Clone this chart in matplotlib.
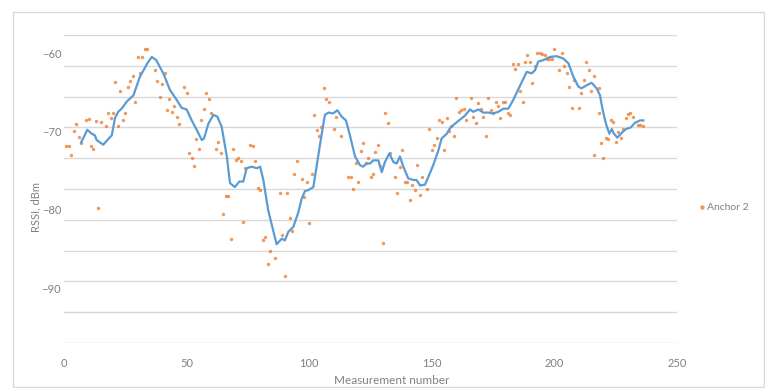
import numpy as np
import matplotlib
matplotlib.use("Agg")
import matplotlib.pyplot as plt
from matplotlib.patches import Rectangle

plt.rcParams['font.family'] = ['Lato', 'DejaVu Sans']

# Anchor 2 raw RSSI readings (measurement number, dBm)
meas_x = [1, 2, 3, 4, 5, 6, 7, 9, 10, 11, 12, 13, 14, 15, 17, 18, 19, 20, 21, 22,
          23, 24, 25, 26, 27, 28, 29, 30, 31, 32, 33, 34, 37, 38, 39, 40, 41, 42, 43, 44,
          45, 46, 47, 49, 50, 51, 52, 53, 54, 55, 56, 57, 58, 59, 60, 62, 63, 64, 65, 66,
          67, 68, 69, 70, 71, 72, 73, 74, 76, 77, 78, 79, 80, 81, 82, 83, 84, 86, 88, 89,
          90, 91, 92, 93, 94, 95, 97, 98, 99, 100, 101, 102, 103, 104, 105, 106, 107, 108, 110, 111,
          113, 116, 117, 118, 119, 120, 121, 122, 123, 124, 125, 126, 127, 128, 129, 130, 131, 132, 133, 135,
          136, 137, 138, 139, 140, 141, 142, 143, 144, 145, 146, 148, 149, 150, 151, 152, 153, 154, 155, 156,
          157, 158, 159, 160, 161, 162, 163, 164, 166, 167, 168, 169, 170, 171, 172, 173, 174, 175, 176, 177,
          178, 179, 180, 181, 182, 183, 184, 185, 186, 187, 188, 189, 190, 191, 192, 193, 194, 195, 196, 197,
          198, 199, 200, 202, 203, 204, 205, 206, 207, 208, 210, 211, 212, 213, 214, 215, 216, 216, 218, 218,
          219, 220, 221, 222, 223, 224, 225, 226, 227, 228, 229, 230, 231, 232, 234, 235, 236]
rssi = [-71.8, -71.8, -73.0, -70.0, -69.1, -70.7, -71.5, -68.6, -68.4, -71.9, -72.2, -68.7, -79.8, -68.8, -69.3, -67.6, -68.3, -67.7, -63.7, -69.3,
        -64.9, -68.6, -67.6, -64.3, -63.6, -62.9, -66.3, -60.5, -62.5, -60.5, -59.5, -59.5, -62.2, -63.6, -65.6, -64.0, -62.6, -67.3, -65.9, -67.5,
        -66.8, -68.1, -69.1, -64.3, -65.1, -72.8, -73.4, -74.4, -71.0, -72.2, -68.6, -67.2, -65.1, -65.9, -67.7, -72.2, -71.3, -72.8, -80.5, -78.3,
        -78.2, -83.7, -72.2, -73.7, -73.4, -73.8, -81.5, -74.7, -71.7, -71.8, -73.8, -77.2, -77.5, -83.9, -83.5, -86.9, -85.2, -86.1, -77.9, -83.2,
        -88.4, -77.8, -81.1, -82.7, -75.4, -73.8, -76.1, -78.4, -76.4, -81.7, -75.4, -67.9, -69.8, -70.6, -69.5, -64.4, -65.9, -66.3, -69.7, -68.1,
        -70.6, -75.8, -75.8, -77.4, -74.0, -76.4, -72.5, -71.5, -74.0, -73.4, -75.8, -75.4, -72.6, -71.7, -74.4, -84.2, -67.7, -68.9, -72.8, -75.8,
        -77.8, -74.5, -72.4, -76.4, -76.4, -78.8, -76.9, -77.5, -74.3, -78.1, -75.8, -77.3, -69.7, -72.4, -71.7, -70.9, -68.5, -68.8, -72.4, -68.3,
        -69.9, -69.3, -70.6, -65.8, -67.5, -67.3, -67.2, -68.6, -65.8, -68.1, -68.9, -66.4, -67.1, -68.1, -70.6, -65.8, -67.3, -67.7, -66.2, -66.8,
        -68.3, -66.2, -66.3, -67.6, -67.9, -61.4, -62.0, -61.4, -64.9, -66.3, -61.1, -60.3, -61.1, -63.8, -61.7, -60.0, -60.0, -60.1, -60.3, -60.7,
        -60.7, -60.7, -59.5, -62.2, -60.0, -61.7, -62.6, -64.3, -67.0, -63.4, -67.0, -65.1, -63.4, -61.2, -62.2, -64.8, -62.9, -73.0, -64.4, -67.7,
        -71.5, -73.4, -70.9, -71.0, -68.5, -68.8, -71.3, -70.1, -70.9, -69.7, -68.3, -67.8, -67.7, -68.1, -69.2, -69.2, -69.3]

# smoothed trend line as drawn in the chart
trend_x = [7, 9.5, 11.3, 12.6, 13.3, 16, 18, 19.5, 20.8, 22.1, 23.5, 25.6, 28.3, 31, 34, 35.8, 37.6, 40.5, 43.2, 46,
           48, 50, 52.1, 54.1, 56.2, 57.1, 58.9, 60.9, 62.5, 64.3, 66.4, 67.7, 69.7, 71.5, 73.1, 74.5, 76.5, 78.6, 80, 81.3,
           83.3, 85.1, 86.7, 88.8, 90.1, 91.5, 93.5, 95.6, 96.9, 98.3, 99.6, 101.7, 103, 104.7, 106.4, 107.8, 109.8, 111.5, 113.2, 115,
           116.6, 118.7, 120.7, 122, 123.4, 124.8, 126.1, 128.2, 129.6, 130.9, 132.7, 134.3, 135.7, 137, 138.4, 140.4, 142.5, 143.8, 145.2, 147.2,
           148.6, 150.6, 152.7, 154, 156.1, 157.4, 159.5, 161.5, 163.5, 165.6, 166.9, 169, 171, 173, 175.1, 177.1, 179.2, 181.2, 183.2, 185.3,
           186.7, 188.7, 190.7, 192.1, 193.4, 195.5, 198.2, 200.9, 203.6, 205.7, 207.7, 209.8, 211.1, 213.2, 215.2, 217.2, 218.6, 219.7, 221, 222.4,
           223.4, 224.3, 225.7, 227.4, 229.2, 231.1, 232.9, 234.9, 236.3]
trend_y = [-71.4, -69.8, -70.3, -70.5, -71.1, -71.7, -71.0, -70.5, -68.3, -67.5, -67.1, -66.2, -65.4, -63.0, -61.3, -60.5, -60.9, -62.6, -64.7, -66.0,
           -67.0, -67.2, -68.6, -69.8, -71.1, -70.9, -69.0, -67.9, -68.1, -69.4, -73.2, -76.6, -77.1, -76.4, -76.4, -74.7, -74.5, -74.7, -74.5, -76.2,
           -80.1, -82.4, -84.4, -83.7, -83.9, -82.8, -82.2, -80.3, -78.6, -77.6, -77.5, -77.1, -74.5, -71.1, -67.9, -67.6, -67.7, -67.3, -68.1, -68.6,
           -70.5, -73.2, -74.3, -74.5, -74.1, -74.1, -73.7, -73.7, -75.2, -73.9, -72.8, -73.9, -74.1, -73.2, -74.5, -76.0, -76.2, -76.2, -76.9, -76.8,
           -75.8, -74.3, -72.4, -70.9, -70.3, -69.6, -69.0, -68.5, -68.0, -67.2, -67.5, -67.2, -67.6, -67.6, -67.7, -67.5, -67.1, -67.1, -66.0, -64.6,
           -63.7, -62.4, -62.6, -62.2, -61.1, -60.9, -60.5, -60.4, -60.7, -61.3, -63.0, -64.3, -64.5, -64.1, -63.8, -64.5, -65.4, -67.3, -69.0, -70.3,
           -69.7, -70.3, -70.8, -70.2, -69.7, -69.5, -68.9, -68.6, -68.6]

x_ticks = [0, 50, 100, 150, 200, 250]
y_ticks = [-60, -70, -80, -90]
y_range = (-97.0, -57.7)

txt_color = '#808080'
grid_color = '#d9d9d9'

fig = plt.figure(figsize=(7.65, 3.88), dpi=100)
ax = fig.add_axes([64 / 765, 45 / 388, 613 / 765, 308 / 388])

# outer chart frame
fig.patches.append(Rectangle((13 / 765, 0.002), 751 / 765, 1 - 12 / 388 - 0.002,
                             transform=fig.transFigure, fill=False,
                             edgecolor='#d9d9d9', linewidth=1))

ax.scatter(meas_x, rssi, s=6, color='#ED7D31', alpha=0.8, linewidths=0,
           label='Anchor 2', zorder=3)
ax.plot(trend_x, trend_y, color='#5B9BD5', linewidth=1.6, zorder=4)

ax.set_xlim(0, 250)
ax.set_ylim(*y_range)
ax.set_xticks(x_ticks)
ax.set_yticks(y_ticks)
# gridlines are evenly spaced over the axis range, independent of the labels
ax.set_yticks(np.linspace(y_range[0], y_range[1], 11), minor=True)
ax.yaxis.grid(True, which='minor', color=grid_color, linewidth=1)
ax.yaxis.grid(False, which='major')
ax.tick_params(axis='both', which='both', length=0, labelsize=8, labelcolor=txt_color)
ax.tick_params(axis='x', pad=11)
ax.tick_params(axis='y', pad=2)
for sp in ax.spines.values():
    sp.set_visible(False)

fig.text(36 / 765, 1 - 207 / 388, 'RSSI, dBm', rotation=90, ha='center', va='center',
         fontsize=8, color=txt_color)
fig.text(392 / 765, 1 - 381 / 388, 'Measurement number', ha='center', va='center',
         fontsize=8.5, color=txt_color)

fig.legend(loc='center left', bbox_to_anchor=(697 / 765, 1 - 207 / 388), frameon=False,
           fontsize=7.5, labelcolor=txt_color, handletextpad=0.0, handlelength=1.0,
           markerscale=1.3, borderaxespad=0, borderpad=0)

fig.savefig('out.png', dpi=100)
